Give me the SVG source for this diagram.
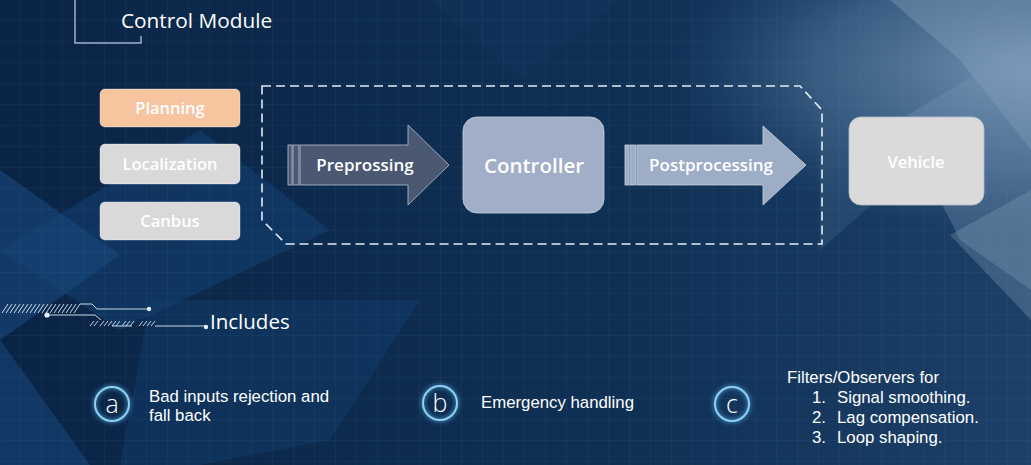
<svg xmlns="http://www.w3.org/2000/svg" width="1031" height="465" viewBox="0 0 1031 465">
<defs>
<linearGradient id="bg" x1="0" y1="0" x2="1" y2="0">
<stop offset="0" stop-color="#0a2446"/>
<stop offset="0.6" stop-color="#0f3055"/>
<stop offset="1" stop-color="#1d4068"/>
</linearGradient>
<radialGradient id="tr" cx="1" cy="0.15" r="0.35" gradientUnits="objectBoundingBox">
<stop offset="0" stop-color="#7e9dbd" stop-opacity="0.9"/>
<stop offset="0.6" stop-color="#5a7ea3" stop-opacity="0.5"/>
<stop offset="1" stop-color="#3a5f86" stop-opacity="0"/>
</radialGradient>
<pattern id="grid" width="21" height="21" patternUnits="userSpaceOnUse">
<path d="M21 0 V21 M0 21 H21" fill="none" stroke="#6f9cc8" stroke-opacity="0.12" stroke-width="1"/>
</pattern>
<filter id="glow" x="-50%" y="-50%" width="200%" height="200%">
<feGaussianBlur stdDeviation="2"/>
</filter>
<style>
.box{stroke:#ffffff;stroke-opacity:0.35;stroke-width:1}
.lbl{font-family:"Open Sans","Liberation Sans",sans-serif;font-weight:600;fill:#ffffff;text-anchor:middle}
.txt{font-family:"Liberation Sans",Arial,sans-serif;fill:#ffffff;font-size:16.8px}
.ring{fill:none;stroke:#8fd0f5;stroke-width:2}
.deco{fill:none;stroke:#c9d6e4;stroke-width:1}
.let{font-family:"Open Sans","Liberation Sans",sans-serif;font-size:25px;fill:#ffffff;text-anchor:middle;font-weight:300}
</style>
</defs>
<rect width="1031" height="465" fill="url(#bg)"/>
<rect width="1031" height="465" fill="url(#tr)"/>
<g id="background-shapes">
<polygon points="0,170 120,255 0,340" fill="#1b4f86" opacity="0.5"/>
<polygon points="0,250 200,130 330,230 120,330" fill="#15467b" opacity="0.45"/>
<polygon points="150,300 420,300 330,440 200,465 120,465" fill="#123e6d" opacity="0.45"/>
<polygon points="0,340 90,465 0,465" fill="#1b5089" opacity="0.45"/>
<polygon points="890,0 1031,0 1031,150 960,60" fill="#8ea8c2" opacity="0.35"/>
<polygon points="900,120 1031,40 1031,290 960,240" fill="#7896b4" opacity="0.35"/>
<polygon points="950,235 1031,190 1031,320" fill="#8aa6c1" opacity="0.3"/>
<polygon points="820,110 900,180 820,250" fill="#3a5e85" opacity="0.4"/>
<polygon points="430,0 620,0 520,80" fill="#14365e" opacity="0.4"/>
</g>
<rect width="1031" height="465" fill="url(#grid)"/>
<g id="title">
<path d="M75 0 V43 H141 V36" fill="none" stroke="#9fb3c8" stroke-width="1.5"/>
<text x="121" y="28" font-family="'Open Sans','Liberation Sans',sans-serif" font-size="20.8" fill="#ffffff">Control Module</text>
</g>
<g id="connectors">
<path d="M262 86 H800 L822 110 V244 H286 L262 220 Z" fill="none" stroke="#e6ecf2" stroke-width="1.6" stroke-dasharray="9 5"/>
</g>
<g id="planning">
<rect class="box" x="100" y="89" width="140" height="38" rx="5" fill="#f7c4a0"/>
<text class="lbl" x="170" y="114" font-size="16.5">Planning</text>
</g>
<g id="localization">
<rect class="box" x="100" y="144" width="140" height="40" rx="5" fill="#d9d9da"/>
<text class="lbl" x="170" y="170" font-size="16.5">Localization</text>
</g>
<g id="canbus">
<rect class="box" x="100" y="202" width="140" height="38" rx="5" fill="#d9d9da"/>
<text class="lbl" x="170" y="227" font-size="16.5">Canbus</text>
</g>
<g id="preprossing">
<rect x="288" y="145" width="4" height="40" fill="#4a5872" stroke="#b8c3d2" stroke-width="0.8"/>
<rect x="293" y="145" width="6" height="40" fill="#4a5872" stroke="#b8c3d2" stroke-width="0.8"/>
<polygon points="300,145 408,145 408,125 449,165 408,205 408,185 300,185" fill="#4a5872" stroke="#b8c3d2" stroke-width="0.8"/>
<text class="lbl" x="365" y="171" font-size="17">Preprossing</text>
</g>
<g id="controller">
<rect x="463" y="117" width="141" height="96" rx="14" fill="#a0aec7" stroke="#c5d0df" stroke-width="0.8"/>
<text class="lbl" x="534" y="173" font-size="20.5">Controller</text>
</g>
<g id="postprocessing">
<rect x="625" y="145" width="4" height="40" fill="#9dadc6" stroke="#c9d3e0" stroke-width="0.8"/>
<rect x="630" y="145" width="6" height="40" fill="#9dadc6" stroke="#c9d3e0" stroke-width="0.8"/>
<polygon points="637,145 763,145 763,126 806,165 763,205 763,185 637,185" fill="#9dadc6" stroke="#c9d3e0" stroke-width="0.8"/>
<text class="lbl" x="711" y="171" font-size="17">Postprocessing</text>
</g>
<g id="vehicle">
<rect x="849" y="117" width="135" height="88" rx="12" fill="#dadadb" stroke="#b5bfcc" stroke-width="0.8"/>
<text class="lbl" x="916" y="168" font-size="16.5">Vehicle</text>
</g>
<g id="includes">
<path d="M2 313 L8 304 M6 313 L12 304 M10 313 L16 304 M14 313 L20 304 M18 313 L24 304 M22 313 L28 304 M26 313 L32 304 M30 313 L36 304 M34 313 L40 304 M38 313 L44 304 M42 313 L48 304 M46 313 L52 304 M50 313 L56 304 M54 313 L60 304 M58 313 L64 304 M62 313 L68 304 M66 313 L72 304 M70 313 L76 304 M74 313 L80 304" class="deco" stroke-width="1.5"/>
<path class="deco" d="M80 304 H92 L97 309 H149"/>
<circle cx="149" cy="309" r="2.2" fill="#e6eef6"/>
<path class="deco" d="M47 315 H95 L101 320"/>
<circle cx="47" cy="315" r="2.6" fill="#e6eef6"/>
<path d="M90 326 L94 321 M94 326 L98 321 M100 326 L104 321 M104 326 L108 321 M108 326 L112 321 M112 326 L116 321 M116 326 L120 321 M122 326 L126 321 M126 326 L130 321 M130 326 L134 321 M139 326 L143 321 M143 326 L147 321 M147 326 L151 321 M151 326 L155 321" class="deco" stroke-width="1.3"/>
<path class="deco" d="M112 326 H132 M155 326 H205"/>
<circle cx="206" cy="327" r="2.2" fill="#e6eef6"/>
<text x="210" y="329" font-family="'Open Sans','Liberation Sans',sans-serif" font-size="20.5" fill="#ffffff">Includes</text>
</g>
<g id="item-a">
<circle cx="112" cy="404" r="17" fill="none" stroke="#5fb8f0" stroke-width="4" opacity="0.55" filter="url(#glow)"/>
<circle class="ring" cx="112" cy="404" r="17"/>
<text class="let" x="112" y="413">a</text>
<text class="txt" x="149" y="402">Bad inputs rejection and</text>
<text class="txt" x="149" y="421">fall back</text>
</g>
<g id="item-b">
<circle cx="440" cy="403" r="17" fill="none" stroke="#5fb8f0" stroke-width="4" opacity="0.55" filter="url(#glow)"/>
<circle class="ring" cx="440" cy="403" r="17"/>
<text class="let" x="440" y="412">b</text>
<text class="txt" x="481" y="408">Emergency handling</text>
</g>
<g id="item-c">
<circle cx="732" cy="404" r="17" fill="none" stroke="#5fb8f0" stroke-width="4" opacity="0.55" filter="url(#glow)"/>
<circle class="ring" cx="732" cy="404" r="17"/>
<text class="let" x="732" y="413">c</text>
<text class="txt" x="787" y="383">Filters/Observers for</text>
<text class="txt" x="812" y="403">1.</text>
<text class="txt" x="837" y="403">Signal smoothing.</text>
<text class="txt" x="812" y="423">2.</text>
<text class="txt" x="837" y="423">Lag compensation.</text>
<text class="txt" x="812" y="443">3.</text>
<text class="txt" x="837" y="443">Loop shaping.</text>
</g>
</svg>
